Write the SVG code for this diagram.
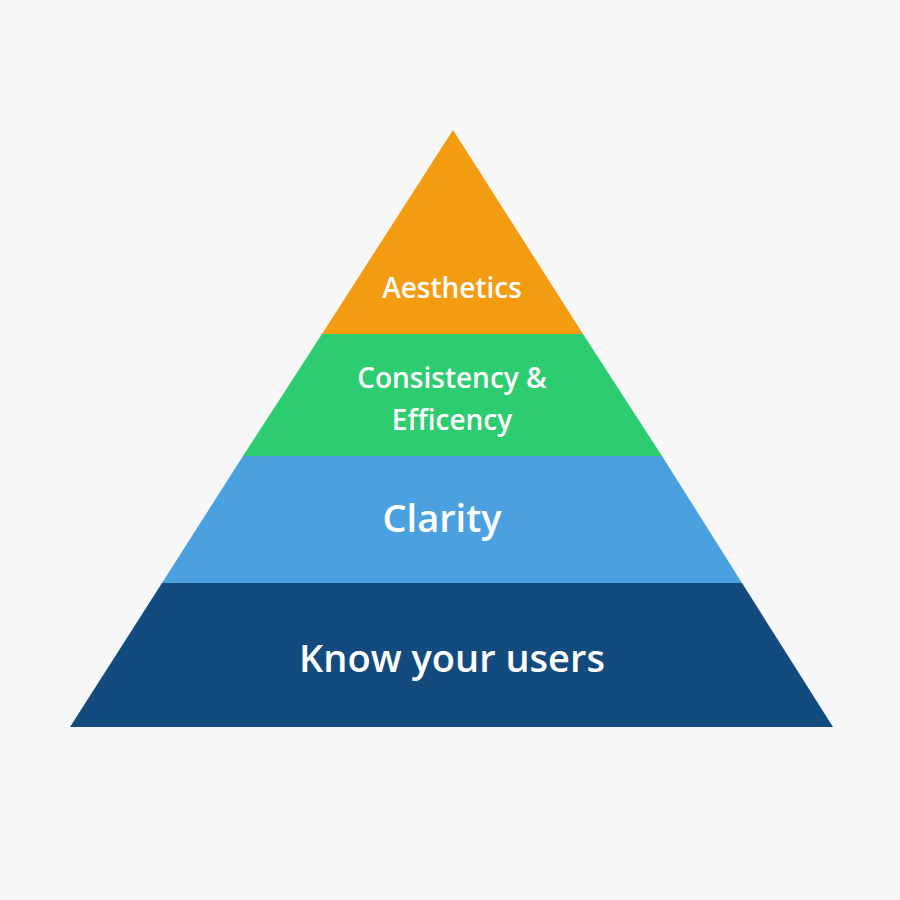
<svg xmlns="http://www.w3.org/2000/svg" width="900" height="900" viewBox="0 0 900 900">
<style>
text{font-family:"Open Sans","Noto Sans",sans-serif;fill:#fff;font-weight:600;text-anchor:middle}
.s{font-size:28px}.l{font-size:38px}
</style>
<rect width="900" height="900" fill="#f7f7f7"/>
<g id="aesthetics"><polygon points="453,130 583,334 322,334" fill="#f39c12"/><text class="s" x="452" y="298">Aesthetics</text></g>
<g id="consistency"><polygon points="322,334 583,334 662,456 243,456" fill="#2ecc71"/><text class="s" x="452" y="388">Consistency &amp;</text><text class="s" x="452" y="430">Efficency</text></g>
<g id="clarity"><polygon points="243,456 662,456 742,583 162,583" fill="#4ba1df"/><text class="l" x="442" y="532">Clarity</text></g>
<g id="users"><polygon points="162,583 742,583 833,727 70,727" fill="#134b7f"/><text class="l" x="452" y="672">Know your users</text></g>
<g id="connectors"/>
</svg>
